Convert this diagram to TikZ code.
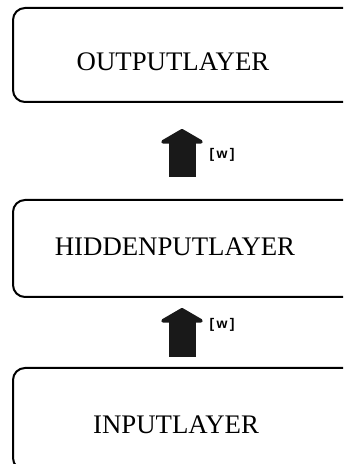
\documentclass[tikz,border=0pt]{standalone}
\usepackage{fontspec}
\setmainfont{Liberation Serif}
\setsansfont{Liberation Sans}
\usetikzlibrary{arrows.meta}

\begin{document}
\begin{tikzpicture}[x=0.5pt, y=0.5pt,
  layer/.style={draw, line width=1pt, rounded corners=6pt,
                minimum width=173.5pt, inner sep=0pt},
  lbl/.style={font=\fontsize{13.4}{16}\selectfont, inner sep=0pt},
  wt/.style={line width=13.5pt, draw=black!90,
             -{Triangle[width=25.5pt, length=7.5pt, round]}},
  wl/.style={font=\sffamily\bfseries\fontsize{7}{8}\selectfont, inner sep=0pt}]
\useasboundingbox (0,0) rectangle (343,464);
\clip (0,0) rectangle (343,464);
% the three layers
\node[layer, minimum height=47pt] (output) at (186.5,409) {};
\node[layer, minimum height=48.5pt] (hidden) at (186.5,215.5) {};
\node[layer, minimum height=51pt] (input) at (186.5,45) {};
\node[lbl] (outtxt) at (173,402) {OUTPUTLAYER};
\node[lbl] (hidtxt) at (175,217) {HIDDENPUTLAYER};
\node[lbl] (intxt) at (176,39) {INPUTLAYER};
% weights between the layers
\draw[wt] ([xshift=-2.25pt, yshift=5pt]input.north)
  -- node[wl, pos=0.65, xshift=20pt] (w1) {[\,w\,]}
  ([xshift=-2.25pt, yshift=-5pt]hidden.south);
\draw[wt] ([xshift=-2.25pt, yshift=11pt]hidden.north)
  -- node[wl, pos=0.46, xshift=20pt] (w2) {[\,w\,]}
  ([xshift=-2.25pt, yshift=-13pt]output.south);
\end{tikzpicture}
\end{document}
